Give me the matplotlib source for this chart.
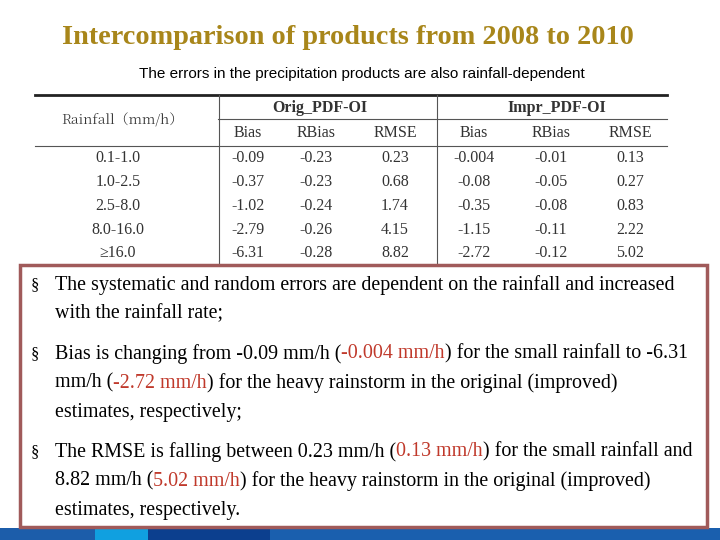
import matplotlib
matplotlib.use("Agg")
import matplotlib.pyplot as plt
from matplotlib.patches import Rectangle
from matplotlib import font_manager as fm
from matplotlib.ft2font import FT2Font

title = "Intercomparison of products from 2008 to 2010"
subtitle = "The errors in the precipitation products are also rainfall-dependent"
groups = ["Orig_PDF-OI", "Impr_PDF-OI"]
metrics = ["Bias", "RBias", "RMSE"]
rain_header = "Rainfall\uff08mm/h\uff09"
rain_classes = ["0.1-1.0", "1.0-2.5", "2.5-8.0", "8.0-16.0", "\u226516.0"]
orig_bias = ["-0.09", "-0.37", "-1.02", "-2.79", "-6.31"]
orig_rbias = ["-0.23", "-0.23", "-0.24", "-0.26", "-0.28"]
orig_rmse = ["0.23", "0.68", "1.74", "4.15", "8.82"]
impr_bias = ["-0.004", "-0.08", "-0.35", "-1.15", "-2.72"]
impr_rbias = ["-0.01", "-0.05", "-0.08", "-0.11", "-0.12"]
impr_rmse = ["0.13", "0.27", "0.83", "2.22", "5.02"]

R = "#c0392b"
bullets = [
    [[("The systematic and random errors are dependent on the rainfall and increased", "k")],
     [("with the rainfall rate;", "k")]],
    [[("Bias is changing from -0.09 mm/h (", "k"), ("-0.004 mm/h", R), (") for the small rainfall to -6.31", "k")],
     [("mm/h (", "k"), ("-2.72 mm/h", R), (") for the heavy rainstorm in the original (improved)", "k")],
     [("estimates, respectively;", "k")]],
    [[("The RMSE is falling between 0.23 mm/h (", "k"), ("0.13 mm/h", R), (") for the small rainfall and", "k")],
     [("8.82 mm/h (", "k"), ("5.02 mm/h", R), (") for the heavy rainstorm in the original (improved)", "k")],
     [("estimates, respectively.", "k")]],
]

def cjk_prop():
    for f in fm.fontManager.ttflist:
        if "CJK" in f.name:
            try:
                ft = FT2Font(f.fname)
                if ft.get_char_index(0xFF08):
                    return fm.FontProperties(fname=f.fname)
            except Exception:
                pass
    return fm.FontProperties(family="DejaVu Sans")

fig = plt.figure(figsize=(7.2, 5.4), dpi=100)
ax = fig.add_axes([0, 0, 1, 1])
ax.set_xlim(0, 720); ax.set_ylim(540, 0); ax.axis("off")

ax.text(348, 38, title, ha="center", va="center", fontsize=20.3, fontweight="bold",
        family="Liberation Serif", color="#a8861a")
ax.text(362, 74, subtitle, ha="center", va="center", fontsize=11, family="Liberation Sans")

# table
tc = "#333333"
ax.plot([35, 667], [95, 95], color="#222", lw=2)
ax.plot([218, 667], [119, 119], color="#555", lw=0.8)
ax.plot([35, 667], [146, 146], color="#555", lw=0.8)
ax.plot([219, 219], [95, 265], color="#555", lw=0.8)
ax.plot([437, 437], [95, 265], color="#555", lw=0.8)
tf = dict(ha="center", va="center", family="Liberation Serif", fontsize=11.5, color=tc)
cp = cjk_prop(); cp.set_size(10)
ax.text(122, 120, rain_header, ha="center", va="center", color=tc, fontproperties=cp)
ax.text(320, 108, groups[0], **tf, fontweight="bold")
ax.text(557, 108, groups[1], **tf, fontweight="bold")
xs = [248, 316, 395, 474, 551, 630]
for i, m in enumerate(metrics * 2):
    ax.text(xs[i], 133, m, **tf)
cols = [orig_bias, orig_rbias, orig_rmse, impr_bias, impr_rbias, impr_rmse]
ys = [158, 182, 206, 230, 253]
for r, rc in enumerate(rain_classes):
    ax.text(118, ys[r], rc, **{**tf, "family": ["Liberation Serif", "DejaVu Serif"]})
    for c, col in enumerate(cols):
        ax.text(xs[c], ys[r], col[r], **tf)

# text box
ax.add_patch(Rectangle((20, 265), 687, 262, facecolor="white", edgecolor="#a05a5a", lw=2.5, zorder=3))
fig.canvas.draw()
rend = fig.canvas.get_renderer()
inv = ax.transData.inverted()
bf = dict(family="Liberation Serif", fontsize=14.4, va="center", zorder=4)
by = [[285, 314], [354, 383, 412], [452, 481, 510]]
for b, lines in enumerate(bullets):
    ax.text(31, by[b][0], "\u00a7", ha="left", **{**bf, "fontsize": 12})
    for l, pieces in enumerate(lines):
        x = 55
        for s, col in pieces:
            t = ax.text(x, by[b][l], s, ha="left", color=col, **bf)
            e = t.get_window_extent(rend)
            x = inv.transform((e.x1, e.y0))[0]

# bottom bar
for x0, w, c in [(0, 95, "#1c5daa"), (95, 53, "#10a0e0"), (148, 122, "#0c3f8e"), (270, 450, "#1a5fae")]:
    ax.add_patch(Rectangle((x0, 528), w, 12, facecolor=c, edgecolor="none", zorder=2))

fig.savefig("out.png", dpi=100)
